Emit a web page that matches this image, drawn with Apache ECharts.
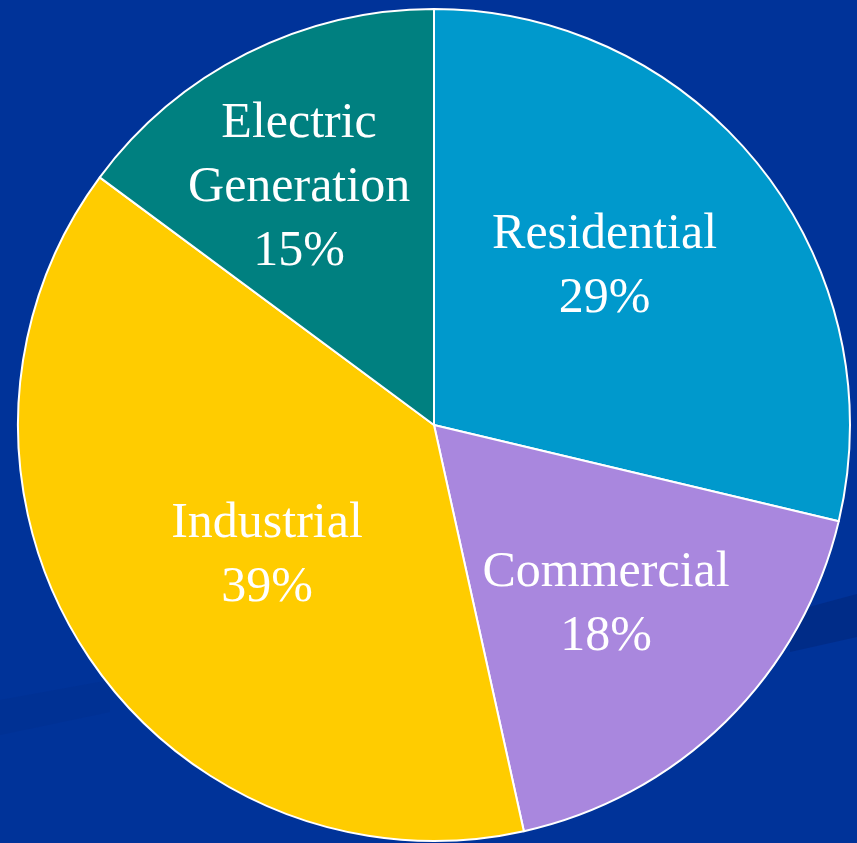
<!DOCTYPE html>
<html>
<head>
<meta charset="utf-8">
<script src="https://cdn.jsdelivr.net/npm/echarts@6/dist/echarts.min.js"></script>
<style>
  html, body { margin: 0; padding: 0; background: #003399; }
  #chart { width: 857px; height: 843px; }
</style>
</head>
<body>
<div id="chart"></div>
<script>
// Natural gas consumption by sector
const sectors = ['Residential', 'Commercial', 'Industrial', 'Electric\nGeneration'];
const shares = [29, 18, 39, 15];
const sliceColors = ['#0099CC', '#A987DE', '#FFCC00', '#008080'];

// Nudges that move each label off the default mid-radius point
const labelNudge = [[5, -27], [24, 30], [10, 16], [-40, -49]];

const chart = echarts.init(document.getElementById('chart'), null, { renderer: 'canvas' });

chart.setOption({
  backgroundColor: '#003399',
  animation: false,
  graphic: [
    // faint diagonal streaks in the backdrop
    { type: 'polygon', z: -10, silent: true,
      shape: { points: [[790, 612], [857, 594], [857, 637], [790, 652]] },
      style: { fill: '#002b86', opacity: 0.9 } },
    { type: 'polygon', z: -10, silent: true,
      shape: { points: [[0, 700], [110, 680], [110, 712], [0, 735]] },
      style: { fill: '#00308f', opacity: 0.5 } }
  ],
  series: [{
    type: 'pie',
    center: [434, 425],
    radius: [0, 416],
    startAngle: 90,
    clockwise: true,
    avoidLabelOverlap: false,
    itemStyle: { borderColor: '#ffffff', borderWidth: 2 },
    label: {
      show: true,
      position: 'inside',
      formatter: p => p.name + '\n' + p.value + '%',
      color: '#ffffff',
      fontFamily: '"Liberation Serif", "DejaVu Serif", serif',
      fontSize: 50,
      lineHeight: 64,
      align: 'center'
    },
    labelLine: { show: false },
    emphasis: { disabled: true },
    data: sectors.map((name, i) => ({
      name: name,
      value: shares[i],
      itemStyle: { color: sliceColors[i] },
      label: { offset: labelNudge[i] }
    }))
  }]
});
</script>
</body>
</html>
